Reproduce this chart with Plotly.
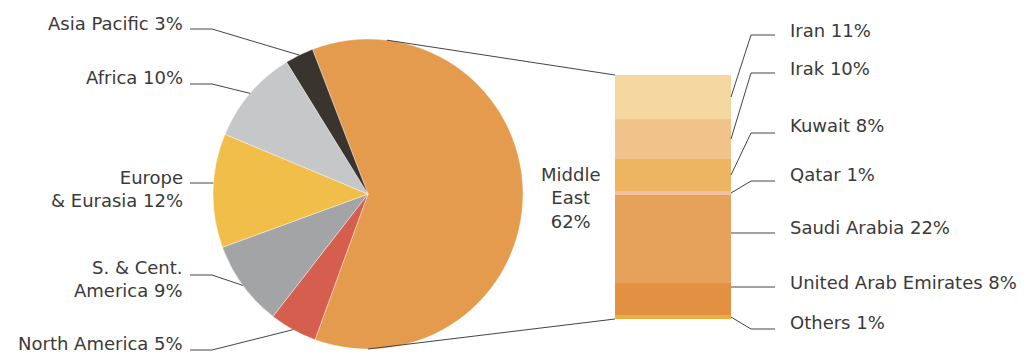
import math
import plotly.graph_objects as go

W, H = 1027, 354

# ---- data ----
regions = ["Middle East", "North America", "S. & Cent.<br>America", "Europe<br>& Eurasia", "Africa", "Asia Pacific"]
region_values = [62, 5, 9, 12, 10, 3]
region_colors = ["#E59B4D", "#D65E4E", "#A3A4A6", "#F2BE4A", "#C6C7C9", "#39342E"]

countries = ["Iran", "Irak", "Kuwait", "Qatar", "Saudi Arabia", "United Arab Emirates", "Others"]
country_values = [11, 10, 8, 1, 22, 8, 1]
country_colors = ["#F5D8A0", "#F0C38B", "#EDB462", "#EFC19C", "#E6A15A", "#E19141", "#ECAE3E"]

# ---- layout constants (pixels) ----
CX, CY, R = 368, 194, 155
ROT = -21
BAR_X0, BAR_X1, BAR_Y0, BAR_Y1 = 615, 731, 75, 319
FONT = "Verdana, DejaVu Sans, sans-serif"
TXT = "#3A3A3A"
LINE = "#444444"
FS = 18


def px(x):
    return x / W


def py(y):
    return 1 - y / H


fig = go.Figure()

fig.add_trace(go.Pie(
    values=region_values, labels=[r.replace("<br>", " ") for r in regions],
    marker=dict(colors=region_colors, line=dict(color="white", width=0.4)),
    sort=False, direction="clockwise", rotation=ROT, textinfo="none",
    hoverinfo="label+percent", showlegend=False,
    domain=dict(x=[px(CX - R), px(CX + R)], y=[py(CY + R), py(CY - R)]),
))

# stacked bar, bottom to top
total = sum(country_values)
for name, v, c in reversed(list(zip(countries, country_values, country_colors))):
    fig.add_trace(go.Bar(x=[0], y=[v], name=name, marker=dict(color=c, line=dict(width=0)),
                         width=1, showlegend=False, hoverinfo="name+y"))

shapes = []
annotations = []

# pie leader lines + labels
tot = sum(region_values)
angle = ROT
mids = []
for v in region_values:
    a0 = angle
    angle += v / tot * 360
    mids.append((a0 + angle) / 2)

left_text_y = {1: 343, 2: 279, 3: 189, 4: 78, 5: 23}
left_line_y = {1: 350, 2: 275, 3: 183, 4: 84, 5: 29}
for i in range(1, len(regions)):
    ly = left_line_y[i]
    if i == 3:
        # straight horizontal leader to the circle edge
        ex, ey = CX - math.sqrt(R * R - (ly - CY) ** 2), ly
        path = f"M {px(190)},{py(ly)} L {px(ex)},{py(ey)}"
    else:
        a = math.radians(mids[i])
        ex, ey = CX + R * math.sin(a), CY - R * math.cos(a)
        path = f"M {px(190)},{py(ly)} L {px(212)},{py(ly)} L {px(ex)},{py(ey)}"
    shapes.append(dict(type="path", xref="paper", yref="paper", path=path,
                       line=dict(color=LINE, width=1)))
    annotations.append(dict(x=px(185), y=py(left_text_y[i]), xref="paper", yref="paper",
                            text=f"{regions[i]} {region_values[i]}%", showarrow=False,
                            xanchor="right", yanchor="middle", align="right",
                            font=dict(size=FS, color=TXT, family=FONT)))

# Middle East label
annotations.append(dict(x=px(570), y=py(198), xref="paper", yref="paper",
                        text=f"Middle<br>East<br>{region_values[0]}%", showarrow=False,
                        xanchor="center", yanchor="middle", align="center",
                        font=dict(size=FS, color=TXT, family=FONT)))

# connector lines pie -> bar
ta = math.radians(7)
shapes.append(dict(type="line", xref="paper", yref="paper",
                   x0=px(CX + R * math.sin(ta)), y0=py(CY - R * math.cos(ta)),
                   x1=px(BAR_X0), y1=py(BAR_Y0), line=dict(color=LINE, width=1)))
shapes.append(dict(type="line", xref="paper", yref="paper",
                   x0=px(CX), y0=py(CY + R),
                   x1=px(BAR_X0), y1=py(BAR_Y1), line=dict(color=LINE, width=1)))

# bar leader lines + labels
right_text_y = [30, 68, 125, 174, 227, 282, 322]
right_line_y = [35, 73, 133, 181, 233, 287, 329]
straight = ("Saudi Arabia", "United Arab Emirates")
cum = total
for i, (name, v) in enumerate(zip(countries, country_values)):
    mid = cum - v / 2
    cum -= v
    ly = right_line_y[i]
    ey = BAR_Y1 - (mid / total) * (BAR_Y1 - BAR_Y0)
    if name in straight:
        path = f"M {px(BAR_X1)},{py(ly)} L {px(775)},{py(ly)}"
    else:
        path = f"M {px(BAR_X1)},{py(ey)} L {px(751)},{py(ly)} L {px(775)},{py(ly)}"
    shapes.append(dict(type="path", xref="paper", yref="paper", path=path,
                       line=dict(color=LINE, width=1)))
    annotations.append(dict(x=px(788), y=py(right_text_y[i]), xref="paper", yref="paper",
                            text=f"{name} {v}%", showarrow=False,
                            xanchor="left", yanchor="middle", align="left",
                            font=dict(size=FS, color=TXT, family=FONT)))

fig.update_layout(
    width=W, height=H, margin=dict(l=0, r=0, t=0, b=0),
    paper_bgcolor="white", plot_bgcolor="white",
    barmode="stack", bargap=0,
    xaxis=dict(domain=[px(BAR_X0), px(BAR_X1)], range=[-0.5, 0.5], visible=False, fixedrange=True),
    yaxis=dict(domain=[py(BAR_Y1), py(BAR_Y0)], range=[0, total], visible=False, fixedrange=True),
    shapes=shapes, annotations=annotations,
    font=dict(family=FONT, color=TXT),
)

fig.write_html("out.html")
